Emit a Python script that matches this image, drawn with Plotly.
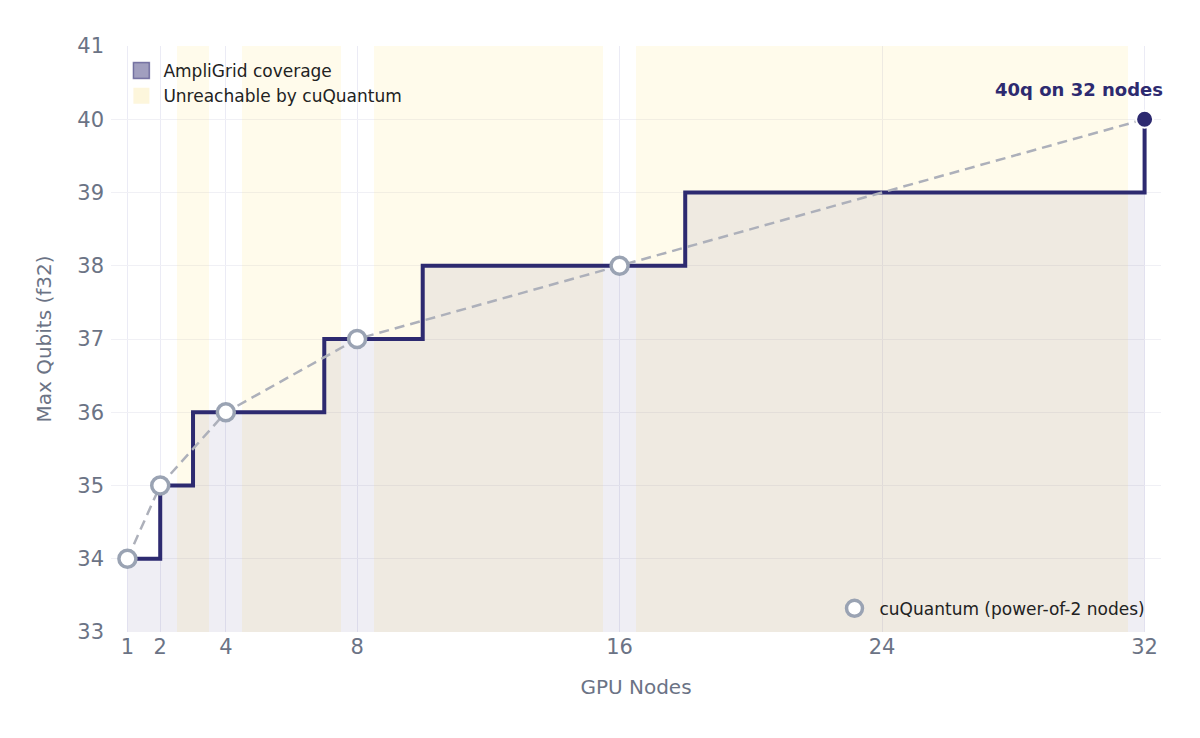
import plotly.graph_objects as go

# AmpliGrid: max qubits (f32) vs. GPU nodes, steps where capacity grows
ampligrid_nodes = [1, 2, 3, 7, 10, 18, 32]
ampligrid_qubits = [34, 35, 36, 37, 38, 39, 40]

# cuQuantum only runs on power-of-2 node counts
cuq_nodes = [1, 2, 4, 8, 16]
cuq_qubits = [34, 35, 36, 37, 38]

# dashed reference line through the power-of-2 points
ref_nodes = [1, 2, 4, 8, 16, 32]
ref_qubits = [34, 35, 36, 37, 38, 40]

# node counts cuQuantum cannot use
unreachable_nodes = [3, 5, 6, 7, 9, 10, 11, 12, 13, 14, 15,
                     17, 18, 19, 20, 21, 22, 23, 24, 25, 26, 27, 28, 29, 30, 31]

x_ticks = [1, 2, 4, 8, 16, 24, 32]
y_min, y_max = 33, 41

NAVY = "#2d2a70"
GREY = "#6b7385"
FONT = "DejaVu Sans"

fig = go.Figure()

# yellow bands, full height
fig.add_trace(go.Bar(
    x=unreachable_nodes,
    y=[y_max - y_min] * len(unreachable_nodes),
    base=y_min,
    width=1,
    marker=dict(color="rgba(253,230,138,0.17)", line=dict(width=0)),
    showlegend=False,
    hoverinfo="skip",
))

# area under the AmpliGrid step line
fig.add_trace(go.Scatter(
    x=ampligrid_nodes, y=ampligrid_qubits,
    mode="lines",
    line=dict(color=NAVY, width=4, shape="hv"),
    fill="tozeroy",
    fillcolor="rgba(46,42,114,0.08)",
    showlegend=False,
))

# legend proxies for the top-left legend
fig.add_trace(go.Scatter(
    x=[None], y=[None], mode="markers", name="AmpliGrid coverage",
    marker=dict(symbol="square", size=16, color="rgba(46,42,114,0.45)",
                line=dict(color="rgba(46,42,114,0.55)", width=1.5)),
    legend="legend",
))
fig.add_trace(go.Scatter(
    x=[None], y=[None], mode="markers", name="Unreachable by cuQuantum",
    marker=dict(symbol="square", size=16, color="#fdf6dc", line=dict(width=0)),
    legend="legend",
))

# dashed log2 line
fig.add_trace(go.Scatter(
    x=ref_nodes, y=ref_qubits,
    mode="lines",
    line=dict(color="#adb0ba", width=2.5, dash="10px,6px"),
    showlegend=False,
    hoverinfo="skip",
))

# cuQuantum points
fig.add_trace(go.Scatter(
    x=cuq_nodes, y=cuq_qubits,
    mode="markers",
    name="cuQuantum (power-of-2 nodes)",
    marker=dict(size=17, color="white", line=dict(color="#9aa3b3", width=3.5)),
    legend="legend2",
))

# 32-node endpoint
fig.add_trace(go.Scatter(
    x=[ampligrid_nodes[-1]], y=[ampligrid_qubits[-1]],
    mode="markers",
    marker=dict(size=17, color=NAVY, line=dict(color="white", width=2)),
    showlegend=False,
))

fig.add_annotation(
    x=ampligrid_nodes[-1], y=ampligrid_qubits[-1],
    text="<b>40q on 32 nodes</b>",
    showarrow=False, xanchor="right", yanchor="bottom",
    xshift=20, yshift=17,
    font=dict(family=FONT, size=18, color=NAVY),
)

fig.update_layout(
    width=1200, height=738,
    margin=dict(l=103, r=47, t=38, b=114),
    paper_bgcolor="white", plot_bgcolor="white",
    font=dict(family=FONT, size=17, color="#222"),
    bargap=0,
    legend=dict(
        x=0.008, y=0.988, xanchor="left", yanchor="top",
        bgcolor="rgba(0,0,0,0)", itemsizing="trace", itemwidth=34,
        font=dict(family=FONT, size=17, color="#222"),
    ),
    legend2=dict(
        x=0.99, y=0.009, xanchor="right", yanchor="bottom",
        bgcolor="rgba(0,0,0,0)", itemsizing="trace", itemwidth=40,
        font=dict(family=FONT, size=17, color="#222"),
    ),
)

fig.update_xaxes(
    range=[0.5, 32.5], tickvals=x_ticks,
    showgrid=True, gridcolor="#ebebf5", zeroline=False, showline=False,
    tickfont=dict(family=FONT, size=21, color=GREY),
    title=dict(text="GPU Nodes", font=dict(family=FONT, size=20, color=GREY), standoff=21),
)
fig.update_yaxes(
    range=[y_min, y_max], dtick=1,
    showgrid=True, gridcolor="#f0f0f5", zeroline=False, showline=False,
    tickfont=dict(family=FONT, size=21, color=GREY),
    ticklabelstandoff=6,
    title=dict(text="Max Qubits (f32)", font=dict(family=FONT, size=20, color=GREY), standoff=20),
)

fig.write_html("out.html")
